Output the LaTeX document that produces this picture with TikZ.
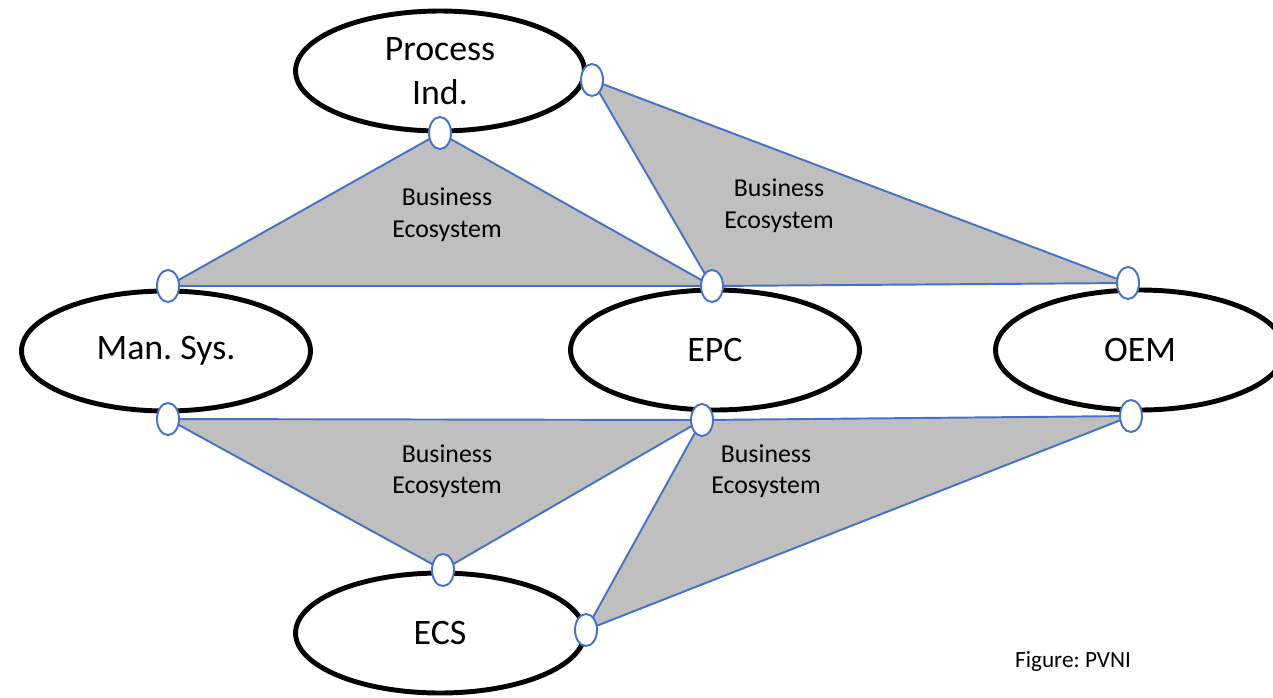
\documentclass[tikz,border=0pt]{standalone}
\usepackage{fontspec}
\setmainfont{Carlito}
\usetikzlibrary{shapes.geometric}
\definecolor{linkblue}{RGB}{68,114,196}
\definecolor{ecogray}{RGB}{191,191,191}
\frenchspacing

\begin{document}
\begin{tikzpicture}[x=0.02cm, y=-0.02cm,
    party/.style={ellipse, draw=black, line width=2.8pt, fill=white, minimum width=5.78cm, minimum height=2.4cm, align=center, font=\fontsize{20.4}{24.9}\selectfont},
    port/.style={ellipse, draw=linkblue, line width=1.1pt, fill=white, minimum width=0.44cm, minimum height=0.64cm, inner sep=0pt},
    eco/.style={fill=ecogray, draw=linkblue, line width=1.1pt, line join=round},
    ecotext/.style={align=center, font=\fontsize{14.7}{18}\selectfont}]
        \clip (0,0) rectangle (1273,697);

        \node[party] (proc) at (440, 71) {Process\\Ind.};
        \node[party] (man) at (166, 351) {Man. Sys.};
        \node[party] (epc) at (715, 350) {EPC};
        \node[party] (oem) at (1140, 350) {OEM};
        \node[party] (ecs) at (440, 633) {ECS};

        % connection points on the ellipses
        \coordinate (ps) at (440, 133);
        \coordinate (pe) at (592, 80);
        \coordinate (mn) at (168, 286);
        \coordinate (ms) at (168, 419);
        \coordinate (en) at (712, 286);
        \coordinate (es) at (702, 420);
        \coordinate (on) at (1128, 283);
        \coordinate (os) at (1131, 416);
        \coordinate (cn) at (443, 570);
        \coordinate (ce) at (586, 630);

        \draw[eco] (ps) -- (mn) -- (en) -- cycle;
        \draw[eco] (pe) -- (en) -- (on) -- cycle;
        \draw[eco] (ms) -- (es) -- (cn) -- cycle;
        \draw[eco] (es) -- (os) -- (ce) -- cycle;

        \foreach \p in {ps, pe, mn, ms, en, es, on, os, cn, ce}
            \node[port] (\p-port) at (\p) {};

        \node[ecotext] (eco1) at (447, 215) {Business\\Ecosystem};
        \node[ecotext] (eco2) at (779, 206) {Business\\Ecosystem};
        \node[ecotext] (eco3) at (447, 471) {Business\\Ecosystem};
        \node[ecotext] (eco4) at (766, 471) {Business\\Ecosystem};

        \node[font=\fontsize{13.2}{16}\selectfont] (fig) at (1073, 661) {Figure: PVNI};
    \end{tikzpicture}
\end{document}
